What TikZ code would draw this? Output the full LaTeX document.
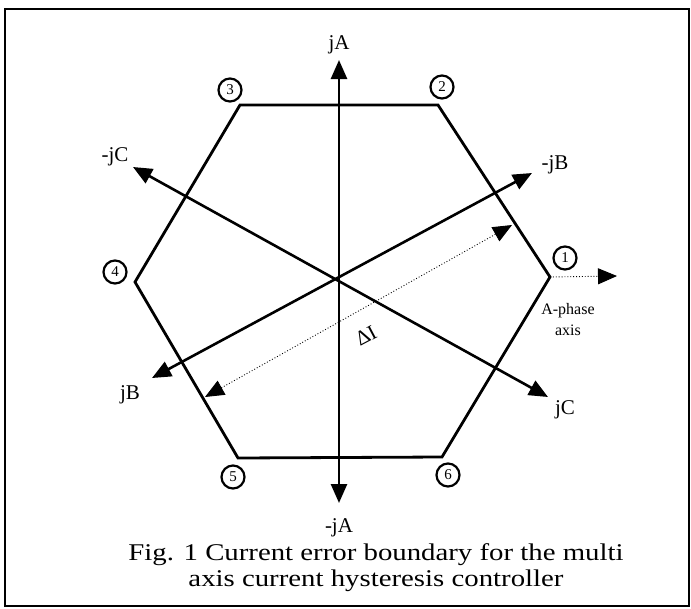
\documentclass[tikz,border=0pt]{standalone}
\usepackage{fontspec}
\setmainfont{Liberation Serif}
\usepackage{graphicx}
\usetikzlibrary{
  arrows.meta,
  positioning
}

\begin{document}
\begin{tikzpicture}[x=1pt,y=-1pt,>={Triangle[length=19pt,width=16pt]},
  axisline/.style={line width=2.6pt},
  hexline/.style={line width=2.8pt,line join=miter},
  dotline/.style={line width=0.9pt,dotted},
  corner/.style={circle,draw,line width=2.2pt,inner sep=0pt,minimum width=23pt,
    minimum height=21pt,font=\fontsize{15}{15}\selectfont},
  lab/.style={font=\fontsize{21}{21}\selectfont,inner sep=1pt}]
  \useasboundingbox (0,0) rectangle (691,608);
  \draw[line width=2pt] (5,9) rectangle (689,606);
  % hexagon
  \coordinate (V1) at (550,277);
  \coordinate (V2) at (438,105);
  \coordinate (V3) at (240,105);
  \coordinate (V4) at (135,282);
  \coordinate (V5) at (238,458);
  \coordinate (V6) at (442,457);
  \draw[hexline] (V1) -- (V2) -- (V3) -- (V4) -- (V5) -- (V6) -- cycle;
  % corner numbers
  \node[corner] (n1) at (565,258) {1};
  \node[corner] (n2) at (442,87)  {2};
  \node[corner] (n3) at (230,90)  {3};
  \node[corner] (n4) at (115,272) {4};
  \node[corner] (n5) at (233,477) {5};
  \node[corner] (n6) at (448,475) {6};
  % axis tips
  \coordinate (Ap) at (339,60);
  \coordinate (An) at (339,503);
  \coordinate (Bp) at (152,378);
  \coordinate (Bn) at (532,173);
  \coordinate (Cp) at (548,397);
  \coordinate (Cn) at (133,167);
  \foreach \u/\v in {An/Ap,Bp/Bn,Cn/Cp}
    \draw[axisline,<->] (\u) -- (\v);
  \node[lab] (jA)  at (339,45)  {jA};
  \node[lab] (mjA) at (339,528) {-jA};
  \node[lab] (jB)  at (130,395) {jB};
  \node[lab] (mjB) at (555,165) {-jB};
  \node[lab] (jC)  at (565,410) {jC};
  \node[lab] (mjC) at (115,157) {-jC};
  % current error span
  \coordinate (D1) at (205,397);
  \coordinate (D2) at (512,225);
  \draw[dotline,<->] (D1) -- (D2);
  \node[lab,rotate=28] (dI) at (366,336) {ΔI};
  % A-phase axis
  \coordinate (Ax) at (617,276);
  \draw[dotline,->] (V1) -- (Ax);
  \node[align=center,font=\fontsize{16}{21}\selectfont] (aph) at (568,320) {A-phase\\axis};
  % caption
  \node[align=center,font=\fontsize{24}{26}\selectfont] (cap) at (376,568)
    {\scalebox{1.2}[1]{Fig. 1 Current error boundary for the multi}\\
     \scalebox{1.2}[1]{axis current hysteresis controller}};
\end{tikzpicture}
\end{document}
